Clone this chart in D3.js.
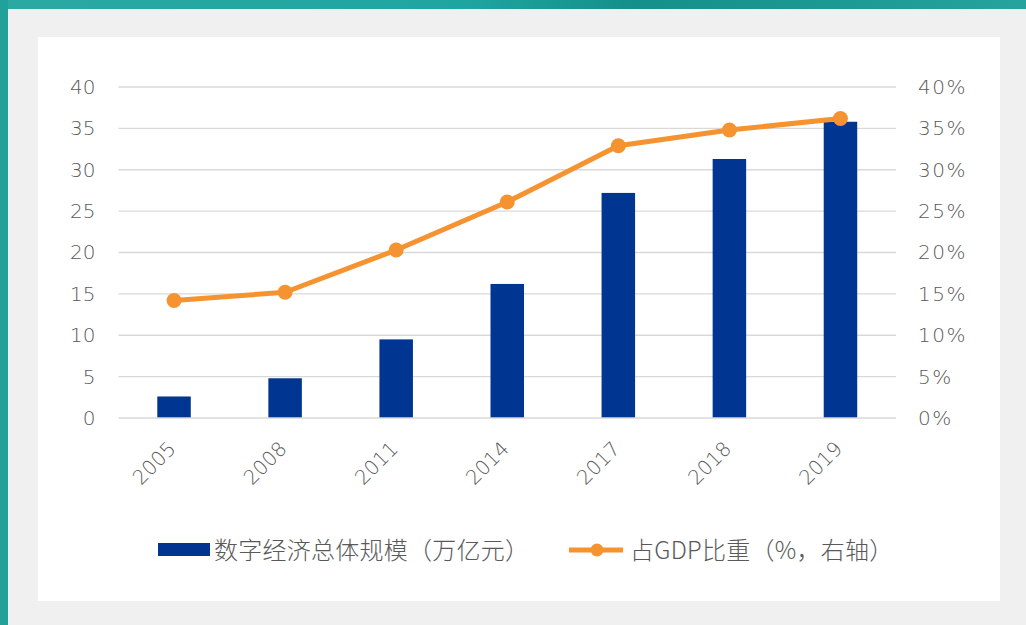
<!DOCTYPE html>
<html>
<head>
<meta charset="utf-8">
<script src="https://cdn.jsdelivr.net/npm/d3@7"></script>
<style>
  html, body { margin: 0; padding: 0; background: #f0f0f0; }
  body { width: 1026px; height: 625px; overflow: hidden; }
</style>
</head>
<body>
<div id="chart"></div>
<script>
// data
var years = ["2005", "2008", "2011", "2014", "2017", "2018", "2019"];
var scale = [2.6, 4.8, 9.5, 16.2, 27.2, 31.3, 35.8];      // 数字经济总体规模（万亿元）
var share = [14.2, 15.2, 20.3, 26.1, 32.9, 34.8, 36.2];   // 占GDP比重（%）
var leftTicks = [0, 5, 10, 15, 20, 25, 30, 35, 40];
var rightTicks = [0, 5, 10, 15, 20, 25, 30, 35, 40];
var seriesNames = ["数字经济总体规模（万亿元）", "占GDP比重（%，右轴）"];

var W = 1026, H = 625;
var barColor = "#003591", lineColor = "#f59331", textColor = "#595959";
var tickFont = "'DejaVu Sans', Verdana, sans-serif";
var cjkFont = "'Noto Sans CJK SC', 'Noto Sans', sans-serif";

var svg = d3.select("#chart").append("svg")
  .attr("width", W).attr("height", H);

// page background: teal strip on top and left, grey area, white card
var grad = svg.append("defs").append("linearGradient").attr("id", "teal");
grad.append("stop").attr("offset", "0%").attr("stop-color", "#2aa9a2");
grad.append("stop").attr("offset", "45%").attr("stop-color", "#1fa5a0");
grad.append("stop").attr("offset", "62%").attr("stop-color", "#148f89");
grad.append("stop").attr("offset", "100%").attr("stop-color", "#25a39c");
svg.append("rect").attr("x", 0).attr("y", 0).attr("width", W).attr("height", H).attr("fill", "#f0f0f0");
svg.append("rect").attr("x", 0).attr("y", 0).attr("width", W).attr("height", 9).attr("fill", "url(#teal)");
svg.append("rect").attr("x", 0).attr("y", 0).attr("width", 8).attr("height", H).attr("fill", "#22a09a");
svg.append("rect").attr("x", 38).attr("y", 37).attr("width", 962).attr("height", 564).attr("fill", "#ffffff");

var plot = { left: 118.5, right: 896, top: 87, bottom: 418 };

var x = d3.scaleBand().domain(years).range([plot.left, plot.right]);
var yL = d3.scaleLinear().domain([0, 40]).range([plot.bottom, plot.top]);
var yR = d3.scaleLinear().domain([0, 40]).range([plot.bottom, plot.top]);

// gridlines
svg.append("g")
  .selectAll("line").data(leftTicks.slice(1)).join("line")
  .attr("x1", plot.left).attr("x2", plot.right)
  .attr("y1", d => yL(d)).attr("y2", d => yL(d))
  .attr("stroke", "#d9d9d9").attr("stroke-width", 1.3);

// left axis
var gL = svg.append("g")
  .attr("transform", "translate(" + (plot.left - 23) + ",0)")
  .call(d3.axisLeft(yL).tickValues(leftTicks).tickSize(0).tickPadding(0));
gL.select(".domain").remove();
gL.selectAll("text").attr("fill", textColor)
  .style("font-family", tickFont).style("font-size", "20px").style("font-weight", 200);

// right axis
var gR = svg.append("g")
  .attr("transform", "translate(" + (plot.right + 22) + ",0)")
  .call(d3.axisRight(yR).tickValues(rightTicks).tickSize(0).tickPadding(0)
    .tickFormat(d => d + "%"));
gR.select(".domain").remove();
gR.selectAll("text").attr("fill", textColor)
  .style("font-family", tickFont).style("font-size", "20px").style("font-weight", 200)
  .attr("letter-spacing", "1.5px");

// bars
var barW = 33.5;
svg.append("g").selectAll("rect").data(years).join("rect")
  .attr("x", (d, i) => x(d) + x.bandwidth() / 2 - barW / 2)
  .attr("y", (d, i) => yL(scale[i]))
  .attr("width", barW)
  .attr("height", (d, i) => yL(0) - yL(scale[i]))
  .attr("fill", barColor);

// baseline
svg.append("line")
  .attr("x1", plot.left).attr("x2", plot.right)
  .attr("y1", yL(0)).attr("y2", yL(0))
  .attr("stroke", "#d9d9d9").attr("stroke-width", 1.5);

// x axis labels, rotated
var gX = svg.append("g")
  .attr("transform", "translate(0,450)")
  .call(d3.axisBottom(x).tickSize(0).tickPadding(0));
gX.select(".domain").remove();
gX.selectAll("text")
  .attr("fill", textColor)
  .style("font-family", tickFont).style("font-size", "20px").style("font-weight", 200)
  .attr("text-anchor", "end")
  .attr("x", 0).attr("y", 0).attr("dy", 0)
  .attr("transform", "translate(3,0) rotate(-45)");

// line on right axis
var line = d3.line()
  .x((d, i) => x(years[i]) + x.bandwidth() / 2)
  .y(d => yR(d));
svg.append("path").datum(share)
  .attr("d", line)
  .attr("fill", "none")
  .attr("stroke", lineColor)
  .attr("stroke-width", 5)
  .attr("stroke-linejoin", "round");
svg.append("g").selectAll("circle").data(share).join("circle")
  .attr("cx", (d, i) => x(years[i]) + x.bandwidth() / 2)
  .attr("cy", d => yR(d))
  .attr("r", 7.5)
  .attr("fill", lineColor);

// legend
var lg = svg.append("g").attr("transform", "translate(0,550)");
lg.append("rect").attr("x", 158).attr("y", -7).attr("width", 52).attr("height", 13).attr("fill", barColor);
lg.append("text").attr("x", 214).attr("y", 0).attr("dy", "0.36em")
  .attr("fill", textColor).style("font-family", cjkFont).style("font-size", "24px")
  .style("font-weight", 300).attr("letter-spacing", "0.25px").text(seriesNames[0]);
lg.append("line").attr("x1", 569).attr("x2", 623).attr("y1", 0).attr("y2", 0)
  .attr("stroke", lineColor).attr("stroke-width", 5);
lg.append("circle").attr("cx", 597).attr("cy", 0).attr("r", 6.5).attr("fill", lineColor);
lg.append("text").attr("x", 630).attr("y", 0).attr("dy", "0.36em")
  .attr("fill", textColor).style("font-family", cjkFont).style("font-size", "24px")
  .style("font-weight", 300).attr("letter-spacing", "0.25px").text(seriesNames[1]);
</script>
</body>
</html>
